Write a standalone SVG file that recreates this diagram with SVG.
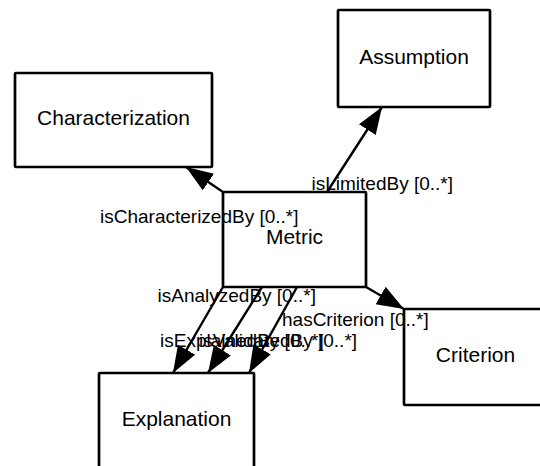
<svg xmlns="http://www.w3.org/2000/svg" width="540" height="466" viewBox="0 0 540 466">
  <style>
    .box { fill: #ffffff; stroke: #000000; stroke-width: 2.7; }
    .name { font-family: "Liberation Sans", Arial, sans-serif; font-size: 21px; fill: #000000; text-anchor: middle; }
    .edge { stroke: #000000; stroke-width: 2.4; fill: none; marker-end: url(#head); }
    .role { font-family: "Liberation Sans", Arial, sans-serif; font-size: 19px; fill: #000000; }
  </style>
  <defs>
    <marker id="head" markerUnits="userSpaceOnUse" markerWidth="28" markerHeight="21" refX="27" refY="10" orient="auto">
      <path d="M0,0 L27,10 L0,20 Z" fill="#000000"/>
    </marker>
  </defs>
  <rect width="540" height="466" fill="#ffffff"/>

  <g id="node-assumption">
    <rect class="box" x="338" y="10" width="152" height="97" rx="1"/>
    <text class="name" x="414" y="64">Assumption</text>
  </g>
  <g id="node-characterization">
    <rect class="box" x="15" y="73" width="197" height="94" rx="1"/>
    <text class="name" x="113.5" y="125">Characterization</text>
  </g>
  <g id="node-metric">
    <rect class="box" x="223" y="192" width="143" height="95" rx="1"/>
    <text class="name" x="294.5" y="244">Metric</text>
  </g>
  <g id="node-criterion">
    <rect class="box" x="404" y="309" width="143" height="96" rx="1"/>
    <text class="name" x="475.5" y="362">Criterion</text>
  </g>
  <g id="node-explanation">
    <rect class="box" x="99" y="373" width="155" height="96" rx="1"/>
    <text class="name" x="176.5" y="426">Explanation</text>
  </g>

  <g id="connectors">
    <line class="edge" x1="223" y1="192" x2="186" y2="167"/>
    <line class="edge" x1="327" y1="192" x2="382" y2="107"/>
    <line class="edge" x1="366" y1="287" x2="404" y2="309"/>
    <line class="edge" x1="223" y1="287" x2="173" y2="373"/>
    <line class="edge" x1="262" y1="287" x2="208" y2="373"/>
    <line class="edge" x1="297" y1="287" x2="249" y2="373"/>
    <text class="role" x="100" y="223">isCharacterizedBy [0..*]</text>
    <text class="role" x="311.5" y="190">isLimitedBy [0..*]</text>
    <text class="role" x="157.5" y="302">isAnalyzedBy [0..*]</text>
    <text class="role" x="282" y="326">hasCriterion [0..*]</text>
    <text class="role" x="160" y="347">isExplainedBy [0..*]</text>
    <text class="role" x="199" y="347">isValidatedBy [0..*]</text>
  </g>
</svg>
